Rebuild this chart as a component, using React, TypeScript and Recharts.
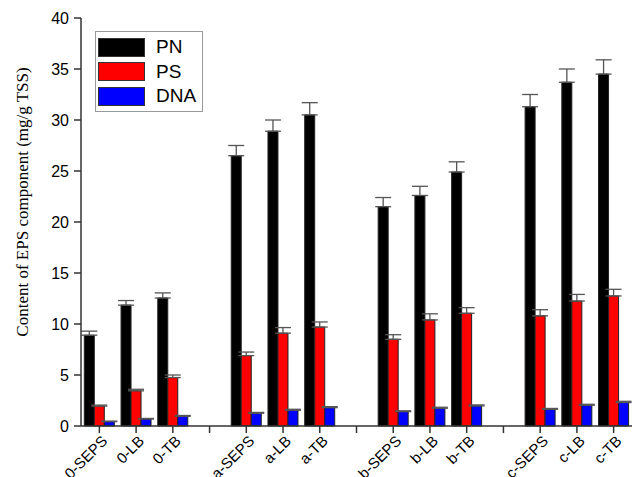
import React from "react";
import { BarChart, Bar, XAxis, YAxis, Legend, ErrorBar, Label } from "recharts";

const categories = [
  "0-SEPS", "0-LB", "0-TB",
  "a-SEPS", "a-LB", "a-TB",
  "b-SEPS", "b-LB", "b-TB",
  "c-SEPS", "c-LB", "c-TB",
];
const pnValues = [8.9, 11.85, 12.55, 26.5, 28.9, 30.5, 21.5, 22.6, 24.9, 31.3, 33.7, 34.5];
const pnErrors = [0.4, 0.45, 0.5, 1.0, 1.1, 1.2, 0.9, 0.9, 1.0, 1.2, 1.3, 1.4];
const psValues = [1.95, 3.45, 4.75, 6.9, 9.1, 9.7, 8.5, 10.4, 11.05, 10.8, 12.25, 12.75];
const psErrors = [0.1, 0.15, 0.25, 0.35, 0.55, 0.5, 0.45, 0.6, 0.55, 0.6, 0.65, 0.65];
const dnaValues = [0.43, 0.69, 0.95, 1.25, 1.54, 1.8, 1.41, 1.74, 1.97, 1.64, 2.03, 2.3];
const dnaErrors = [0.05, 0.05, 0.08, 0.08, 0.1, 0.1, 0.08, 0.1, 0.1, 0.08, 0.1, 0.12];
const yTicks = [0, 5, 10, 15, 20, 25, 30, 35, 40];

const series = [
  { key: "pn", name: "PN", color: "#000000" },
  { key: "ps", name: "PS", color: "#ff0000" },
  { key: "dna", name: "DNA", color: "#0000ff" },
];

// empty slot between every group of three samples
const data: any[] = [];
categories.forEach((name, i) => {
  if (i > 0 && i % 3 === 0) data.push({ name: `gap${i}` });
  data.push({
    name,
    pn: pnValues[i],
    pnErr: [0, pnErrors[i]],
    ps: psValues[i],
    psErr: [0, psErrors[i]],
    dna: dnaValues[i],
    dnaErr: [0, dnaErrors[i]],
  });
});

const sans = "'Liberation Sans', Arial, sans-serif";

function XTick({ x, y, payload }: any) {
  const label = String(payload.value).startsWith("gap") ? "" : payload.value;
  return (
    <g transform={`translate(${x},${y})`}>
      <text
        transform="translate(9,7) rotate(-45)"
        textAnchor="end"
        fontSize={15}
        fontFamily={sans}
        fill="#000"
      >
        {label}
      </text>
    </g>
  );
}

function renderLegend() {
  return (
    <div
      style={{
        border: "1px solid #999",
        padding: "3px 6px 2px 2px",
        background: "#fff",
        fontFamily: sans,
        fontSize: 19,
        lineHeight: "24.5px",
      }}
    >
      {series.map((s) => (
        <div key={s.key} style={{ display: "flex", alignItems: "center" }}>
          <span
            style={{
              display: "inline-block",
              width: 45,
              height: 17,
              background: s.color,
              border: "1px solid #333",
              marginRight: 11,
            }}
          />
          <span>{s.name}</span>
        </div>
      ))}
    </div>
  );
}

export default function App() {
  return (
    <div style={{ position: "absolute", left: 0, top: 0, background: "#fff" }}>
      <BarChart
        width={636}
        height={477}
        data={data}
        margin={{ top: 18, right: 4, left: 0, bottom: 0 }}
        barGap={0}
        barCategoryGap="9%"
      >
        <XAxis
          dataKey="name"
          interval={0}
          height={51}
          tick={<XTick />}
          tickSize={7}
          axisLine={{ stroke: "#333", strokeWidth: 1.5 }}
          tickLine={{ stroke: "#333", strokeWidth: 1.5 }}
        />
        <XAxis
          xAxisId="top"
          dataKey="name"
          orientation="top"
          height={0}
          tick={false}
          tickLine={false}
          axisLine={{ stroke: "#888", strokeWidth: 1.5 }}
        />
        <YAxis
          width={81}
          domain={[0, 40]}
          ticks={yTicks}
          tickSize={7}
          tickMargin={5}
          tick={{ fontSize: 16, fontFamily: sans, fill: "#000" }}
          axisLine={{ stroke: "#333", strokeWidth: 1.5 }}
          tickLine={{ stroke: "#333", strokeWidth: 1.5 }}
        >
          <Label
            content={() => (
              <text
                x={22}
                y={202}
                transform="rotate(-90, 22, 202)"
                textAnchor="middle"
                dominantBaseline="central"
                fontSize={17}
                fontFamily="'Liberation Serif', 'Times New Roman', serif"
                fill="#000"
              >
                Content of EPS component (mg/g TSS)
              </text>
            )}
          />
        </YAxis>
        <YAxis
          yAxisId="right"
          orientation="right"
          width={0}
          domain={[0, 40]}
          tick={false}
          tickLine={false}
          axisLine={{ stroke: "#888", strokeWidth: 1.5 }}
        />
        <Legend
          layout="vertical"
          align="center"
          verticalAlign="middle"
          content={renderLegend}
          wrapperStyle={{ position: "absolute", left: 95, top: 31, width: "auto", height: "auto" }}
        />
        {series.map((s) => (
          <Bar
            key={s.key}
            dataKey={s.key}
            name={s.name}
            fill={s.color}
            stroke="#222"
            strokeWidth={1}
            isAnimationActive={false}
          >
            <ErrorBar
              dataKey={`${s.key}Err`}
              direction="y"
              width={8}
              stroke="#555"
              strokeWidth={1.3}
            />
          </Bar>
        ))}
      </BarChart>
    </div>
  );
}
